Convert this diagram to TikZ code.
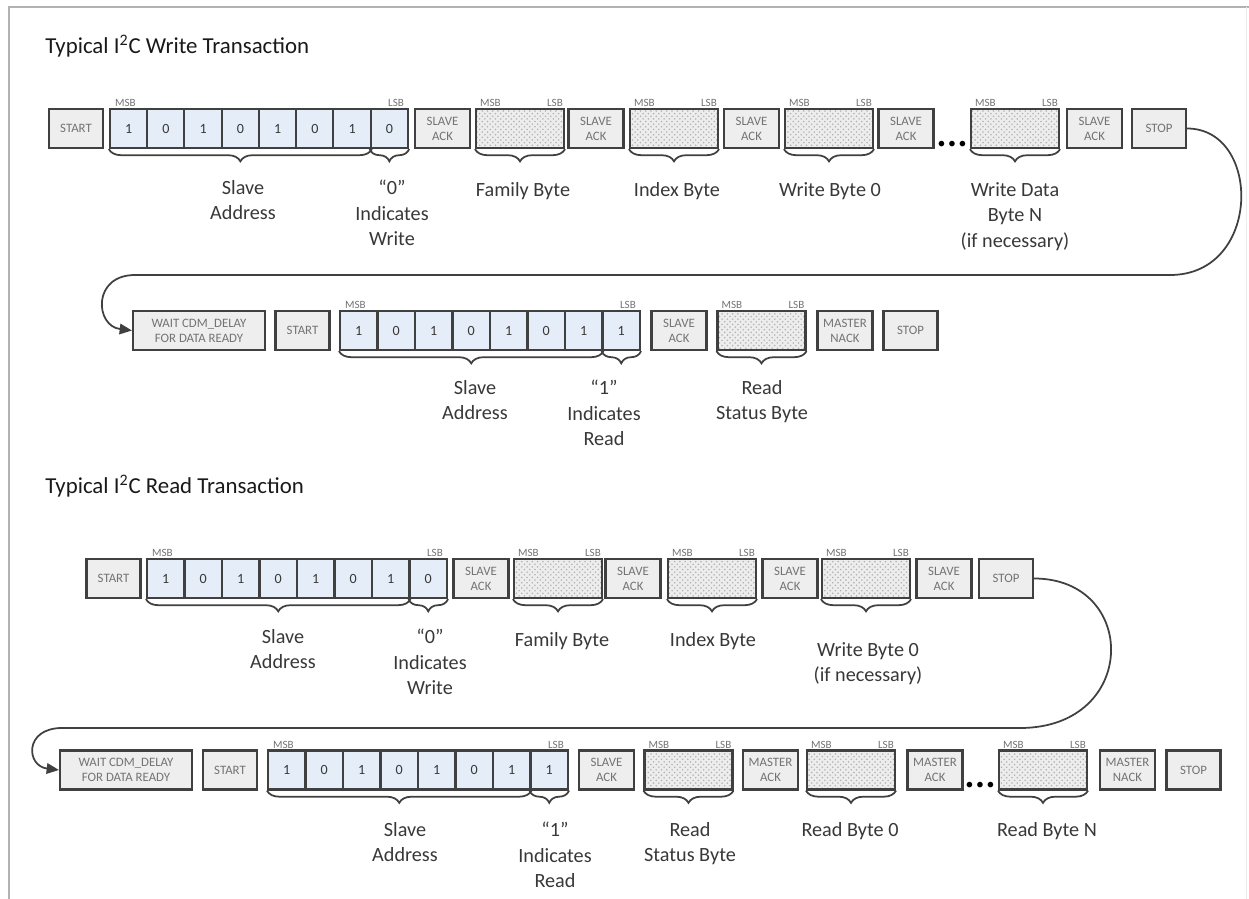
\documentclass[tikz,border=0pt]{standalone}
\usepackage{fontspec}
\setmainfont{Carlito}
\usetikzlibrary{positioning,arrows.meta,calc,patterns,decorations.pathreplacing}
\definecolor{bitblue}{HTML}{E5EDF8}
\definecolor{boxedge}{HTML}{404040}
\definecolor{ink}{HTML}{383838}

\begin{document}
\begin{tikzpicture}[
  x=0.02cm, y=-0.02cm,
  font=\fontsize{11.5}{14.5}\selectfont,
  ctl/.style={draw=boxedge, line width=1.2pt, fill=gray!13, text=black!55, align=center, inner sep=0pt, minimum height=0.78cm, minimum width=1.08cm, font=\fontsize{7.3}{8.6}\selectfont},
  ack/.style={ctl, minimum width=1.1cm},
  wide/.style={ctl, minimum width=2.64cm},
  bitcell/.style={draw=boxedge, line width=1.2pt, fill=bitblue, text=ink, inner sep=0pt, minimum height=0.78cm, minimum width=0.75cm, font=\fontsize{8}{9}\selectfont},
  databox/.style={draw=boxedge, line width=1.2pt, preaction={fill=gray!14}, pattern=crosshatch dots, pattern color=gray!60, minimum height=0.78cm, minimum width=1.76cm, inner sep=0pt},
  bitlbl/.style={font=\fontsize{6.3}{7}\selectfont, text=black!55, inner sep=0.5pt, anchor=south west},
  lbl/.style={text=ink, align=center, anchor=north, inner sep=0pt},
  hdr/.style={font=\fontsize{13}{15}\selectfont, text=black!90, anchor=base west, inner sep=0pt},
  brc/.style={draw=boxedge, line width=1pt, decorate, decoration={brace, mirror, amplitude=7pt}},
  flow/.style={draw=boxedge, line width=1pt, -{Triangle[length=7pt, width=6pt]}},
  dots/.style={font=\fontsize{9}{9}\selectfont, text=black, inner sep=0pt}
]
\useasboundingbox (0,0) rectangle (1249,899);
% frame
\draw[gray!60, line width=1.2pt] (9,899) -- (9,7) -- (1249,7);
\draw[gray!15] (1246,7) -- (1246,899);

\node[hdr] (wrTitle) at (45,53) {Typical I\textsuperscript{2}C Write Transaction};
\node[hdr] (rdTitle) at (45,493) {Typical I\textsuperscript{2}C Read Transaction};

% write transaction, first line
\node[ctl] (waStart) at (76,128.5) {START};
\foreach \b [count=\i] in {1,0,1,0,1,0,1,0}
  \node[bitcell] (waBit\i) at ({110+37.25*(\i-0.5)},128.5) {\b};
\node[ack] (waAck1) at (442.5,128.5) {SLAVE\\ACK};
\node[databox] (waFam) at (520,128.5) {};
\node[ack] (waAck2) at (596,128.5) {SLAVE\\ACK};
\node[databox] (waIdx) at (674,128.5) {};
\node[ack] (waAck3) at (751.5,128.5) {SLAVE\\ACK};
\node[databox] (waByte0) at (829,128.5) {};
\node[ack] (waAck4) at (906,128.5) {SLAVE\\ACK};
\node[dots] (waDots) at (952,145) {\textbullet\,\textbullet\,\textbullet};
\node[databox] (waByteN) at (1015,128.5) {};
\node[ack] (waAck5) at (1094.5,128.5) {SLAVE\\ACK};
\node[ctl] (waStop) at (1159,128.5) {STOP};

% write transaction, second line
\node[wide] (wbWait) at (199,330.5) {WAIT CDM\_DELAY\\FOR DATA READY};
\node[ctl] (wbStart) at (302.5,330.5) {START};
\foreach \b [count=\i] in {1,0,1,0,1,0,1,1}
  \node[bitcell] (wbBit\i) at ({340+37.5*(\i-0.5)},330.5) {\b};
\node[ack] (wbAck) at (679,330.5) {SLAVE\\ACK};
\node[databox] (wbStatus) at (761.5,330.5) {};
\node[ack] (wbNack) at (845,330.5) {MASTER\\NACK};
\node[ctl] (wbStop) at (910.5,330.5) {STOP};

% read transaction, first line
\node[ctl] (raStart) at (113.5,578.5) {START};
\foreach \b [count=\i] in {1,0,1,0,1,0,1,0}
  \node[bitcell] (raBit\i) at ({147+37.5*(\i-0.5)},578.5) {\b};
\node[ack] (raAck1) at (481,578.5) {SLAVE\\ACK};
\node[databox] (raFam) at (558,578.5) {};
\node[ack] (raAck2) at (633,578.5) {SLAVE\\ACK};
\node[databox] (raIdx) at (712,578.5) {};
\node[ack] (raAck3) at (790,578.5) {SLAVE\\ACK};
\node[databox] (raByte0) at (866,578.5) {};
\node[ack] (raAck4) at (944,578.5) {SLAVE\\ACK};
\node[ctl] (raStop) at (1006,578.5) {STOP};

% read transaction, second line
\node[wide] (rbWait) at (126,770) {WAIT CDM\_DELAY\\FOR DATA READY};
\node[ctl] (rbStart) at (230,770) {START};
\foreach \b [count=\i] in {1,0,1,0,1,0,1,1}
  \node[bitcell] (rbBit\i) at ({268+37.5*(\i-0.5)},770) {\b};
\node[ack] (rbAck) at (606.5,770) {SLAVE\\ACK};
\node[databox] (rbStatus) at (688.5,770) {};
\node[ack] (rbMack1) at (770.5,770) {MASTER\\ACK};
\node[databox] (rbByte0) at (851,770) {};
\node[ack] (rbMack2) at (935,770) {MASTER\\ACK};
\node[dots] (rbDots) at (980,786) {\textbullet\,\textbullet\,\textbullet};
\node[databox] (rbByteN) at (1043,770) {};
\node[ack] (rbNack) at (1127.5,770) {MASTER\\NACK};
\node[ctl] (rbStop) at (1193.5,770) {STOP};

% MSB / LSB marks
\foreach \r in {wa,wb,ra,rb} {
  \node[bitlbl] (\r Msb) at ($(\r Bit1.north west)+(5,0)$) {MSB};
  \node[bitlbl, anchor=south east] (\r Lsb) at ($(\r Bit8.north east)+(-4,0)$) {LSB};
}
\foreach \n in {waFam,waIdx,waByte0,waByteN,wbStatus,raFam,raIdx,raByte0,rbStatus,rbByte0,rbByteN} {
  \node[bitlbl] (\n-msb) at ($(\n.north west)+(4,0)$) {MSB};
  \node[bitlbl, anchor=south east] (\n-lsb) at ($(\n.north east)+(-1,0)$) {LSB};
}

% braces
\foreach \r in {wa,wb,ra,rb} {
  \draw[brc] (\r Bit1.south west) -- (\r Bit7.south east);
  \draw[brc] (\r Bit8.south west) -- (\r Bit8.south east);
}
\foreach \n in {waFam,waIdx,waByte0,waByteN,wbStatus,raFam,raIdx,raByte0,rbStatus,rbByte0,rbByteN}
  \draw[brc] (\n.south west) -- (\n.south east);

% labels
\node[lbl] (waAddrTxt) at (243,180) {Slave\\Address};
\node[lbl] (waRwTxt) at (392,180) {``0''\\Indicates\\Write};
\node[lbl] (waFamTxt) at (523,182) {Family Byte};
\node[lbl] (waIdxTxt) at (677,182) {Index Byte};
\node[lbl] (waB0Txt) at (830,182) {Write Byte 0};
\node[lbl] (waBNTxt) at (1015,182) {Write Data\\Byte N\\(if necessary)};

\node[lbl] (wbAddrTxt) at (475,380) {Slave\\Address};
\node[lbl] (wbRwTxt) at (604,380) {``1''\\Indicates\\Read};
\node[lbl] (wbStTxt) at (762,380) {Read\\Status Byte};

\node[lbl] (raAddrTxt) at (283,629) {Slave\\Address};
\node[lbl] (raRwTxt) at (430,629) {``0''\\Indicates\\Write};
\node[lbl] (raFamTxt) at (562,632) {Family Byte};
\node[lbl] (raIdxTxt) at (713,632) {Index Byte};
\node[lbl] (raB0Txt) at (868,642) {Write Byte 0\\(if necessary)};

\node[lbl] (rbAddrTxt) at (405,822) {Slave\\Address};
\node[lbl] (rbRwTxt) at (555,822) {``1''\\Indicates\\Read};
\node[lbl] (rbStTxt) at (690,822) {Read\\Status Byte};
\node[lbl] (rbB0Txt) at (850,822) {Read Byte 0};
\node[lbl] (rbBNTxt) at (1047,822) {Read Byte N};

% wrap-around arrows
\draw[flow] (waStop.east) .. controls (1262,128.5) and (1262,275) .. (1170,275) -- (135,275)
  .. controls (92,275) and (95,326) .. (wbWait.west);
\draw[flow] (raStop.east) .. controls (1139,578.5) and (1139,728) .. (1020,728) -- (62,728)
  .. controls (24,728) and (26,766) .. (rbWait.west);
\end{tikzpicture}
\end{document}
